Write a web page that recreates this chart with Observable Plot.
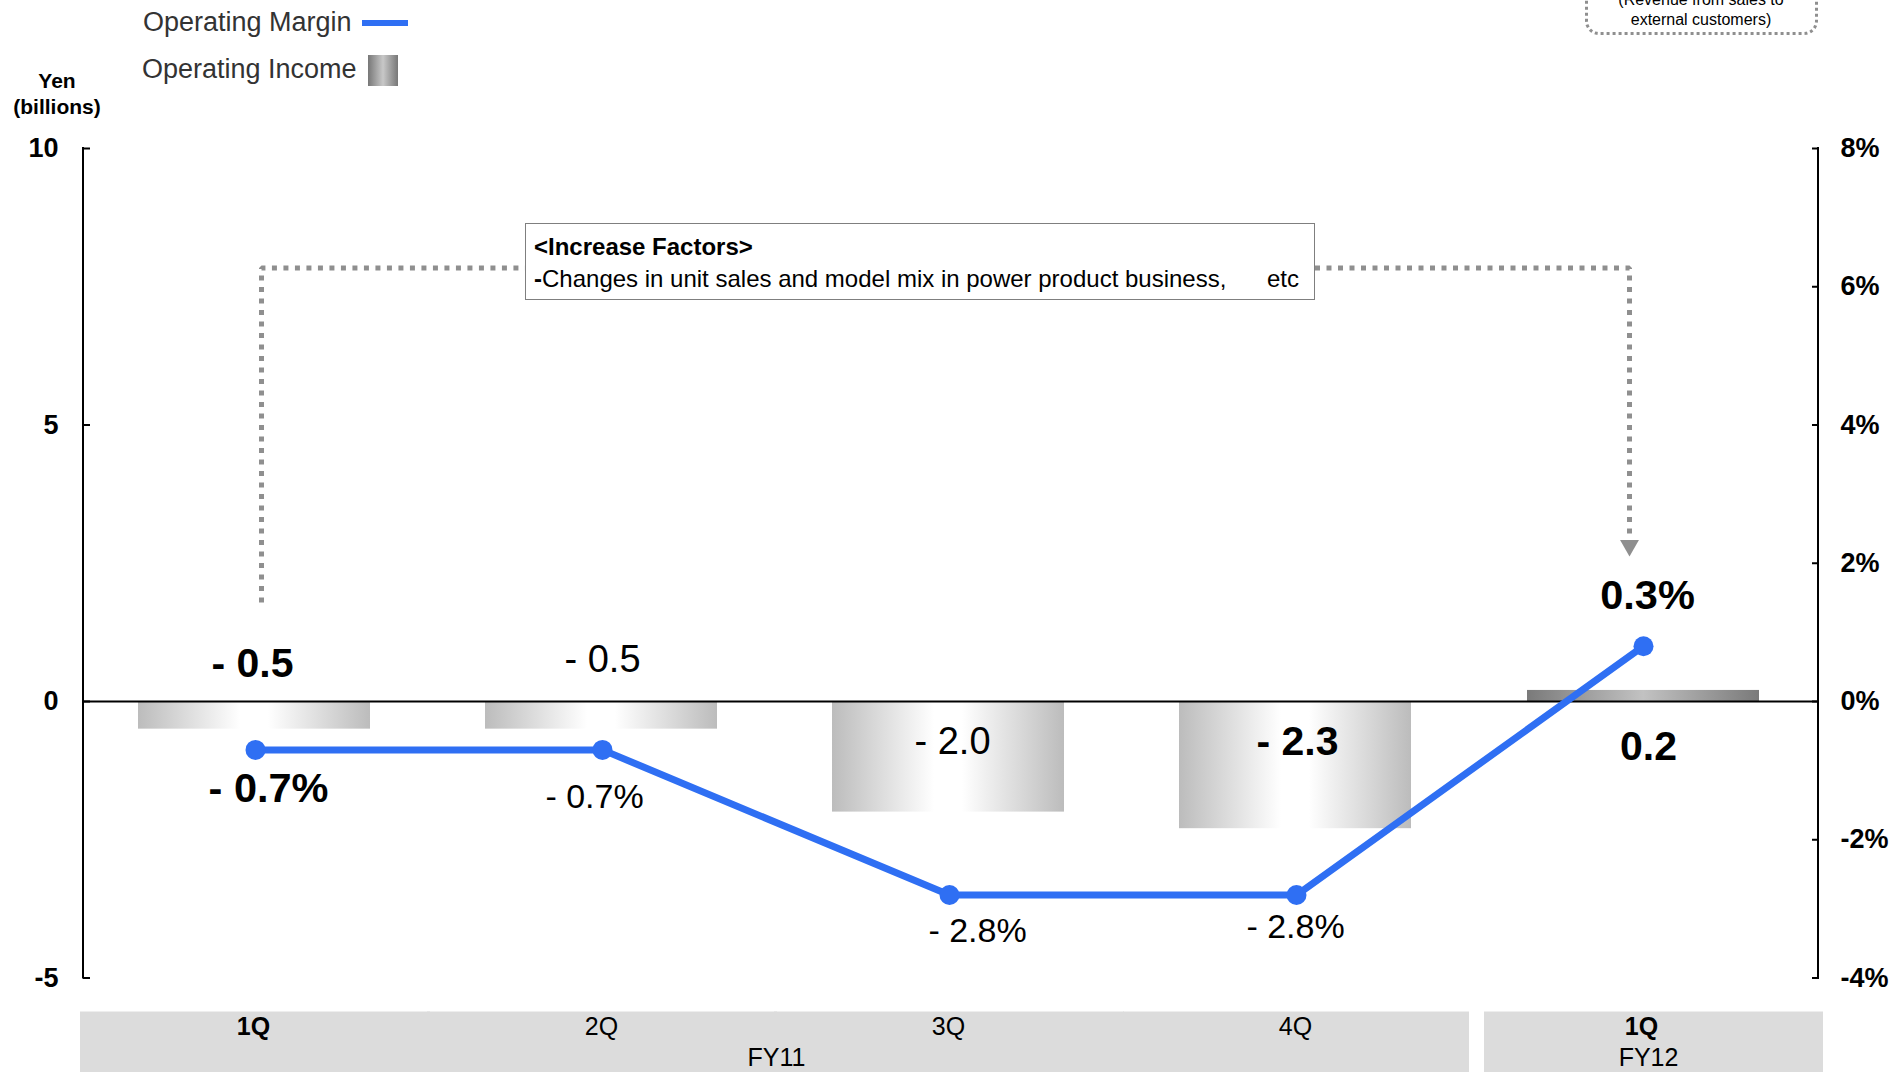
<!DOCTYPE html>
<html><head><meta charset="utf-8">
<script src="https://cdn.jsdelivr.net/npm/d3@7"></script>
<script src="https://cdn.jsdelivr.net/npm/@observablehq/plot@0.6"></script>
<style>
html,body{margin:0;padding:0;background:#fff;overflow:hidden;}
#root{position:relative;width:1904px;height:1072px;overflow:hidden;font-family:"Liberation Sans",Arial,sans-serif;color:#000;}
#root svg{position:absolute;left:0;top:0;}
.abs{position:absolute;white-space:pre;line-height:1.15;}
</style></head><body><div id="root"></div>
<script>
// ---------------- DATA ----------------
const periods = ["1Q FY11", "2Q FY11", "3Q FY11", "4Q FY11", "1Q FY12"];
const quarterLabels = ["1Q", "2Q", "3Q", "4Q", "1Q"];
const fiscalYearLabels = ["FY11", "FY12"];
const operatingIncome = [-0.5, -0.5, -2.0, -2.3, 0.2];            // Yen (billions)
const incomeLabels = ["- 0.5", "- 0.5", "- 2.0", "- 2.3", "0.2"];
const operatingMarginDrawn = [-0.7, -0.7, -2.8, -2.8, 0.8];       // % as plotted in the picture
const marginLabels = ["- 0.7%", "- 0.7%", "- 2.8%", "- 2.8%", "0.3%"];
const yenTicks = [-5, 0, 5, 10];
const pctTicks = [-4, -2, 0, 2, 4, 6, 8];
const yenDomain = [-5, 10];
const pctDomain = [-4, 8];
const legendLabels = ["Operating Margin", "Operating Income"];
const unitLabel = ["Yen", "(billions)"];
const annotationTitle = "<Increase Factors>";
const annotationBody = "Changes in unit sales and model mix in power product business,";
const annotationEtc = "etc";
const noteLines = ["(Revenue from sales to", "external customers)"];

// ---------------- STYLE ----------------
const BLUE = "#2f6ff3";
const DOT_GRAY = "#8f8f8f";
const SVG_NS = "http://www.w3.org/2000/svg";
const boldIncome = [true, false, false, true, true];
const boldMargin = [true, false, false, false, true];
const boldQuarter = [true, false, false, false, true];
const incomeOffset = [[-4, -38], [-1, -42], [2, 40], [0, 40], [4, 45]];
const marginOffset = [[12, 39], [-9, 47], [27, 36], [-2, 32], [3, -50]];

const pctToYen = d3.scaleLinear().domain(pctDomain).range(yenDomain);
const idx = d3.range(periods.length);
const P = i => periods[i];

function gradientDefs() {
  const g = document.createElementNS(SVG_NS, "g");
  g.innerHTML = `<defs>
    <linearGradient id="gLight" x1="0" x2="1" y1="0" y2="0">
      <stop offset="0" stop-color="#bcbcbc"/><stop offset="0.44" stop-color="#ffffff"/>
      <stop offset="0.56" stop-color="#ffffff"/><stop offset="1" stop-color="#bcbcbc"/>
    </linearGradient>
    <linearGradient id="gDark" x1="0" x2="1" y1="0" y2="0">
      <stop offset="0" stop-color="#7a7a7a"/><stop offset="0.5" stop-color="#c2c2c2"/>
      <stop offset="1" stop-color="#7a7a7a"/>
    </linearGradient></defs>`;
  return g;
}

// vertical axis lines at both frame edges, spanning the y domain through the y scale
function axisLines(index, scales, values, dimensions) {
  const {width, marginLeft, marginRight} = dimensions;
  const y = scales.y;
  const g = document.createElementNS(SVG_NS, "g");
  for (const x of [marginLeft, width - marginRight]) {
    const l = document.createElementNS(SVG_NS, "line");
    l.setAttribute("x1", x); l.setAttribute("x2", x);
    l.setAttribute("y1", y(yenDomain[1]) - 1); l.setAttribute("y2", y(yenDomain[0]) + 1);
    l.setAttribute("stroke", "#000"); l.setAttribute("stroke-width", 2);
    g.appendChild(l);
  }
  return g;
}

const marks = [
  gradientDefs,
  // bottom category band
  Plot.barY([0, 1, 2], {x: P, y1: () => -5.615, y2: () => -7, fill: "#dcdcdc", insetLeft: -60, insetRight: -58}),
  Plot.barY([3], {x: P, y1: () => -5.615, y2: () => -7, fill: "#dcdcdc", insetLeft: -58, insetRight: -56}),
  Plot.barY([4], {x: P, y1: () => -5.615, y2: () => -7, fill: "#dcdcdc", insetLeft: -44, insetRight: -63}),
  Plot.text(idx.filter(i => boldQuarter[i]), {x: P, y: () => -5, dy: 48.5, dx: -3, text: i => quarterLabels[i], fontSize: 25, fontWeight: "bold"}),
  Plot.text(idx.filter(i => !boldQuarter[i]), {x: P, y: () => -5, dy: 48.5, dx: -2, text: i => quarterLabels[i], fontSize: 25}),
  Plot.text([2], {x: P, y: () => -5, dy: 80, dx: -174, text: () => fiscalYearLabels[0], fontSize: 25}),
  Plot.text([4], {x: P, y: () => -5, dy: 80, dx: 4, text: () => fiscalYearLabels[1], fontSize: 25}),
  // bars
  Plot.barY(idx.slice(0, 4), {x: P, y: i => operatingIncome[i], fill: "url(#gLight)", dx: -2}),
  Plot.barY([4], {x: P, y: i => operatingIncome[i], fill: "url(#gDark)", dx: -1}),
  Plot.ruleY([0], {stroke: "#000", strokeWidth: 2}),
  // dotted connector
  Plot.line([[0, 1.79], [0, 7.84], [2, 7.84]], {x: d => P(d[0]), y: d => d[1], dx: 5, stroke: DOT_GRAY, strokeWidth: 5, strokeDasharray: "5,6.5", strokeLinecap: "butt", strokeLinejoin: "miter"}),
  Plot.line([[2, 7.84], [4, 7.84], [4, 2.96]], {x: d => P(d[0]), y: d => d[1], dx: -15, stroke: DOT_GRAY, strokeWidth: 5, strokeDasharray: "5,6.5", strokeLinecap: "butt", strokeLinejoin: "miter"}),
  Plot.dot([4], {x: P, y: () => 2.82, dx: -15, symbol: "triangle", rotate: 180, r: 7, fill: DOT_GRAY, stroke: "none"}),
  // operating margin line
  Plot.line(idx, {x: P, y: i => pctToYen(operatingMarginDrawn[i]), stroke: BLUE, strokeWidth: 7, dx: -1}),
  Plot.dot(idx, {x: P, y: i => pctToYen(operatingMarginDrawn[i]), r: 10, fill: BLUE, stroke: "none", dx: -1}),
  // axes
  axisLines,
  Plot.axisY(yenTicks, {anchor: "left", tickSize: -7, tickPadding: 32, tickFormat: d => String(d), fontSize: 27, fontWeight: "bold", strokeWidth: 2, stroke: "#000", fill: "#000", label: null}),
  Plot.axisY(pctTicks.map(p => pctToYen(p)), {anchor: "right", tickSize: -7, tickPadding: 29, tickFormat: v => `${Math.round(pctToYen.invert(v))}%`, fontSize: 27, fontWeight: "bold", strokeWidth: 2, stroke: "#000", fill: "#000", label: null})
];

// value labels
for (const i of idx) {
  marks.push(Plot.text([i], {x: P, y: () => 0, dx: incomeOffset[i][0], dy: incomeOffset[i][1], text: k => incomeLabels[k],
    fontSize: boldIncome[i] ? 41 : 38, fontWeight: boldIncome[i] ? "bold" : "normal", fill: "#000"}));
  marks.push(Plot.text([i], {x: P, y: k => pctToYen(operatingMarginDrawn[k]), dx: marginOffset[i][0], dy: marginOffset[i][1], text: k => marginLabels[k],
    fontSize: boldMargin[i] ? 41.5 : 34, fontWeight: boldMargin[i] ? "bold" : "normal", fill: "#000"}));
}

const chart = Plot.plot({
  width: 1904, height: 1072,
  marginTop: 148, marginBottom: 94.5, marginLeft: 83, marginRight: 86,
  x: {domain: periods, paddingInner: 0.33, paddingOuter: 0.165, axis: null},
  y: {domain: yenDomain},
  style: {fontFamily: '"Liberation Sans", Arial, sans-serif', fontSize: "27px", color: "#000", background: "transparent"},
  marks
});
const root = document.getElementById("root");
root.appendChild(chart);

// ---------------- HTML overlays (legend, unit, annotation) ----------------
function place(text, {left, cy, size, weight = "normal", color = "#000", align = "left", width}) {
  const d = document.createElement("div");
  d.className = "abs";
  d.textContent = text;
  d.style.fontSize = size + "px";
  d.style.fontWeight = weight;
  d.style.color = color;
  d.style.top = (cy - size * 1.15 / 2) + "px";
  if (align === "center") { d.style.left = (left - width / 2) + "px"; d.style.width = width + "px"; d.style.textAlign = "center"; }
  else d.style.left = left + "px";
  root.appendChild(d);
  return d;
}
function box(styles) {
  const d = document.createElement("div");
  d.style.position = "absolute";
  d.style.boxSizing = "border-box";
  Object.assign(d.style, styles);
  root.appendChild(d);
  return d;
}
// legend
place(legendLabels[0], {left: 143, cy: 23, size: 27, color: "#333"});
box({left: "362px", top: "20px", width: "46px", height: "6px", background: BLUE});
place(legendLabels[1], {left: 142, cy: 70, size: 27, color: "#333"});
box({left: "368px", top: "55px", width: "30px", height: "31px", background: "linear-gradient(to right,#777,#c8c8c8 50%,#777)"});
// unit label
place(unitLabel[0], {left: 57, cy: 81, size: 21, weight: "bold", align: "center", width: 120});
place(unitLabel[1], {left: 57, cy: 107, size: 21, weight: "bold", align: "center", width: 120});
// top right note box (cut off by the top edge, as in the source)
box({left: "1585px", top: "-45px", width: "233px", height: "80px", border: "3px dotted #8f8f8f", borderRadius: "14px"});
place(noteLines[0], {left: 1701, cy: 0, size: 16, align: "center", width: 233});
place(noteLines[1], {left: 1701, cy: 20.5, size: 16, align: "center", width: 233});
// annotation box
box({left: "525px", top: "223px", width: "790px", height: "77px", border: "1.5px solid #7f7f7f", background: "#fff"});
place(annotationTitle, {left: 534, cy: 246.5, size: 24, weight: "bold"});
const body = place("", {left: 534, cy: 279, size: 24});
body.innerHTML = "<b>-</b>" + annotationBody.replace(/&/g, "&amp;");
place(annotationEtc, {left: 1267, cy: 279, size: 24});
</script></body></html>
